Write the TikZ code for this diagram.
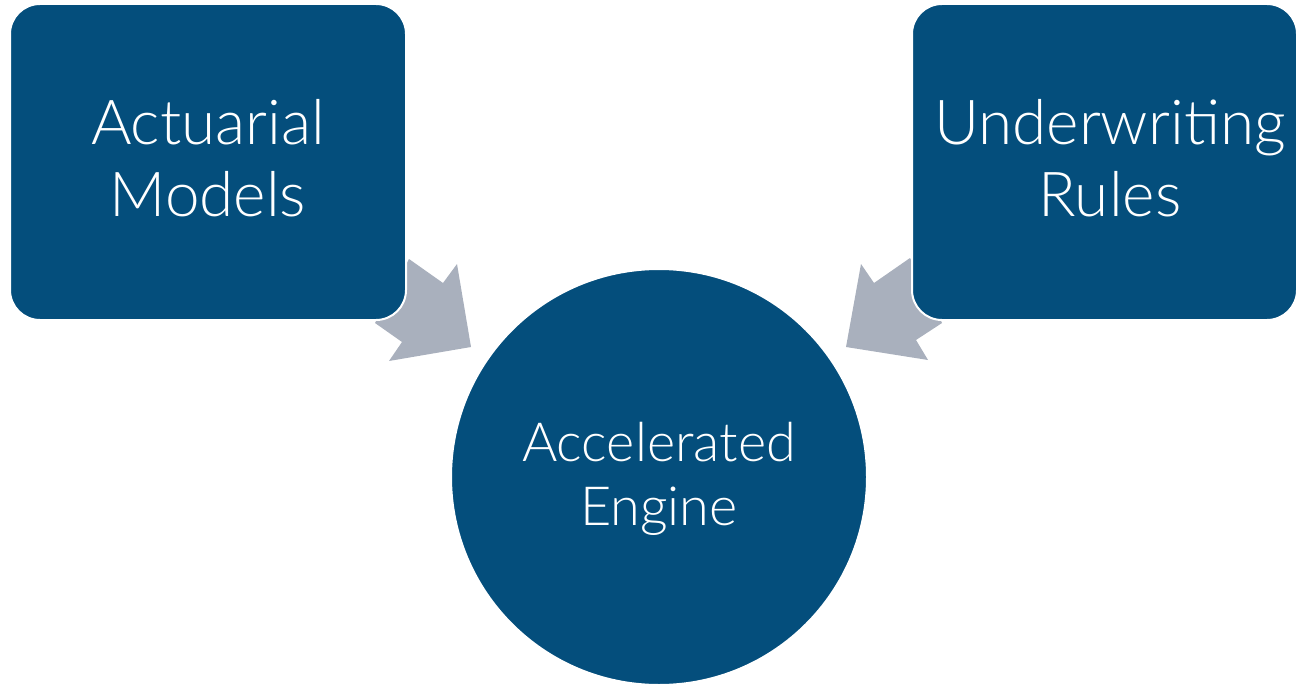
\documentclass[tikz,border=0pt]{standalone}
\usepackage{fontspec}
\setmainfont{Lato}[UprightFont=* Light]
\definecolor{navy}{HTML}{044E7C}
\definecolor{arrowgrey}{HTML}{A9B0BD}
\begin{document}
\begin{tikzpicture}[x=1pt,y=-1pt,
  block/.style={rectangle, fill=navy, draw=white, line width=2pt,
    rounded corners=30pt, inner sep=0pt, text=white, align=center,
    font=\fontsize{62}{72}\selectfont},
  hub/.style={circle, fill=navy, draw=white, line width=2pt,
    inner sep=0pt, minimum size=416pt, text=white, align=center,
    font=\fontsize{54}{64}\selectfont},
  blockarrow/.style={fill=arrowgrey, draw=none}]
\useasboundingbox (0,0) rectangle (1297,687);

% block arrows feeding the engine (drawn first, the boxes overlap their tails)
\fill[blockarrow] (375,323) -- (409,259) -- (443,283) -- (457,264) -- (471,347)
  -- (389,361) -- (402,342) -- cycle;
\fill[blockarrow] (942,323) -- (910,258) -- (874,283) -- (861,264) -- (846,347)
  -- (928,360) -- (916,340) -- cycle;

% input boxes
\node[block, minimum width=396pt, minimum height=316pt] (act) at (208,162) {};
\node[block, minimum width=385pt, minimum height=316pt] (uw) at (1104.5,162) {};
\node[block, draw=none, fill=none] (actlbl) at (208,158) {Actuarial\\Models};
\node[block, draw=none, fill=none] (uwlbl) at (1110,158) {Underwriting\\Rules};

% central engine
\node[hub] (eng) at (659,477) {};
\node[hub, draw=none, fill=none, minimum size=0pt] (englbl) at (659,479)
  {Accelerated\\Engine};
\end{tikzpicture}
\end{document}
